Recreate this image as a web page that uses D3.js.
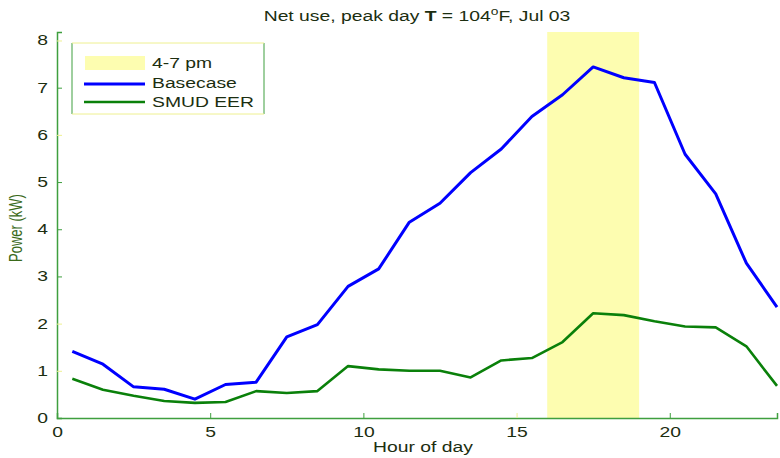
<!DOCTYPE html>
<html><head><meta charset="utf-8">
<script src="https://cdn.jsdelivr.net/npm/d3@7"></script>
<style>body{margin:0;background:#fff}svg{display:block}text{font-family:"Liberation Sans",Arial,sans-serif}</style>
</head><body><svg id="c" width="780" height="458"></svg>
<script>
const hours = [0.5,1.5,2.5,3.5,4.5,5.5,6.5,7.5,8.5,9.5,10.5,11.5,12.5,13.5,14.5,15.5,16.5,17.5,18.5,19.5,20.5,21.5,22.5,23.5];
const basecase = [1.41,1.14,0.66,0.61,0.40,0.71,0.76,1.72,1.98,2.79,3.16,4.15,4.55,5.20,5.70,6.39,6.85,7.44,7.21,7.11,5.59,4.75,3.28,2.35];
const smudEER = [0.83,0.60,0.47,0.36,0.32,0.34,0.57,0.53,0.57,1.10,1.03,1.00,1.00,0.86,1.22,1.27,1.61,2.22,2.18,2.05,1.94,1.92,1.52,0.68];
const peakWindow = [16, 19];
const xTicks = [0,5,10,15,20];
const yTicks = [0,1,2,3,4,5,6,7,8];
const seriesNames = ["4-7 pm","Basecase","SMUD EER"];

const svg = d3.select("#c");
const L = 57, R = 777, T = 32, B = 418;
const S = 1.38; // horizontal text stretch
const x = d3.scaleLinear().domain([0,23.5]).range([L,R]);
const y = d3.scaleLinear().domain([0,8.18]).range([B,T]);
const axisCol = "#3f9f3f", textCol = "#1c2e10", paleCol = "#eef090";

function stext(px, py, str, opts={}) {
  const t = svg.append("text")
    .attr("transform", `translate(${px},${py}) scale(${S},1)` + (opts.rot ? ` rotate(${opts.rot})` : ""))
    .attr("text-anchor", opts.anchor || "start")
    .attr("font-size", opts.size || 14)
    .attr("fill", opts.fill || textCol);
  if (str !== null) t.text(str);
  return t;
}

// peak band
svg.append("rect").attr("x",x(peakWindow[0])).attr("y",T).attr("width",x(peakWindow[1])-x(peakWindow[0])).attr("height",B-T).attr("fill","#fdfdb0");

// axes
const gx = svg.append("g").attr("transform",`translate(0,${B})`).call(d3.axisBottom(x).tickValues(xTicks).tickSize(-5).tickPadding(9));
const gy = svg.append("g").attr("transform",`translate(${L},0)`).call(d3.axisLeft(y).tickValues(yTicks).tickSize(-5).tickPadding(9));
[gx,gy].forEach(g=>{
  g.attr("font-family",null);
  g.select(".domain").attr("stroke",axisCol).attr("stroke-width",1.5);
  g.selectAll(".tick line").attr("stroke",axisCol);
  g.selectAll(".tick text").attr("fill",textCol).attr("font-size",14).attr("transform",`scale(${S},1)`);
});
gy.selectAll(".tick text").attr("x",-9/S);
const paleY = [1,2,6,8];
gy.selectAll(".tick line").filter(d=>paleY.includes(d)).attr("stroke",paleCol);
gx.selectAll(".tick line").filter(d=>d===15).attr("stroke",paleCol);

// lines
const line = d3.line().x((d,i)=>x(hours[i])).y(d=>y(d));
svg.append("path").datum(smudEER).attr("d",line).attr("fill","none").attr("stroke","#0a800a").attr("stroke-width",2.6).attr("stroke-linejoin","round");
svg.append("path").datum(basecase).attr("d",line).attr("fill","none").attr("stroke","#0000ff").attr("stroke-width",3).attr("stroke-linejoin","round");

// title
const t = stext(417,21,null,{anchor:"middle"});
t.append("tspan").text("Net use, peak day ");
t.append("tspan").attr("font-weight","bold").text("T");
t.append("tspan").text(" = 104");
t.append("tspan").attr("font-size",10).attr("dy",-6).text("o");
t.append("tspan").attr("dy",6).text("F, Jul 03");

// axis labels
stext(423,452,"Hour of day",{anchor:"middle"});
svg.append("text").attr("transform",`translate(22,${(T+B)/2+3}) scale(${S},1) rotate(-90)`).attr("text-anchor","middle").attr("font-size",13).attr("fill","#3a6a1a").text("Power (kW)");

// legend
const lg = svg.append("g");
lg.append("rect").attr("x",72).attr("y",43).attr("width",192).attr("height",71).attr("fill","#fff").attr("stroke","none");
lg.append("line").attr("x1",72).attr("x2",72).attr("y1",43).attr("y2",114).attr("stroke",axisCol);
lg.append("line").attr("x1",264).attr("x2",264).attr("y1",43).attr("y2",114).attr("stroke",axisCol);
lg.append("line").attr("x1",72).attr("x2",264).attr("y1",43).attr("y2",43).attr("stroke",paleCol);
lg.append("line").attr("x1",72).attr("x2",264).attr("y1",114).attr("y2",114).attr("stroke",paleCol);
lg.append("rect").attr("x",85).attr("y",56).attr("width",60).attr("height",14).attr("fill","#fdfdb0");
lg.append("line").attr("x1",84).attr("x2",145).attr("y1",84).attr("y2",84).attr("stroke","#0000ff").attr("stroke-width",3);
lg.append("line").attr("x1",84).attr("x2",145).attr("y1",102).attr("y2",102).attr("stroke","#0a800a").attr("stroke-width",2.6);
[68,88,107].forEach((yy,i)=>stext(152,yy,seriesNames[i]));
</script></body></html>
